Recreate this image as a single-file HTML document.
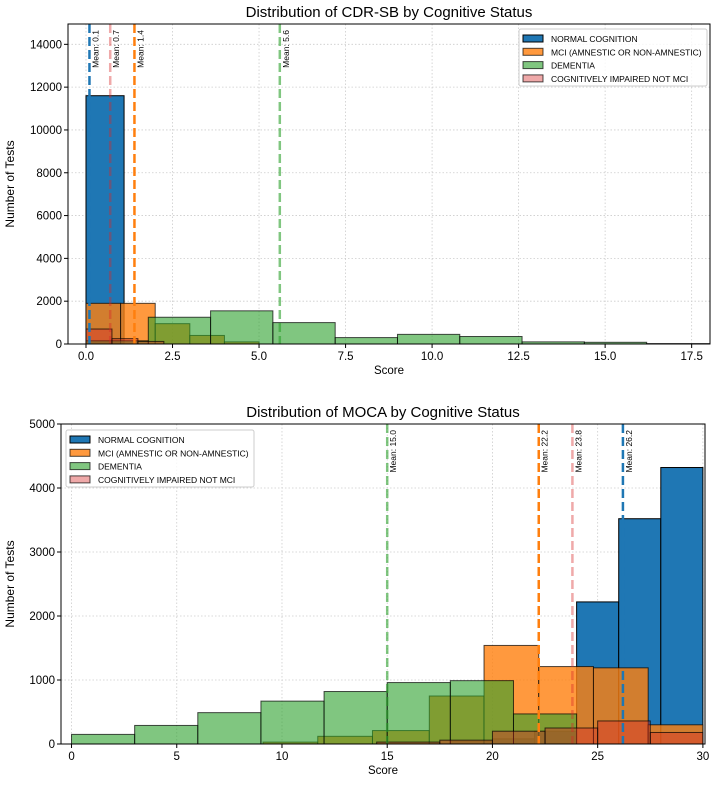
<!DOCTYPE html>
<html><head><meta charset="utf-8">
<style>
body{margin:0;background:#fff;}
svg{display:block;font-family:"Liberation Sans",sans-serif;}
</style></head>
<body>
<svg id="fig" width="714" height="785" viewBox="0 0 714 785" xmlns="http://www.w3.org/2000/svg"></svg>
<script>
// ---- Chart 1 data: CDR-SB ----
const cdrNormalEdges = [0, 1.1];
const cdrNormalCounts = [11600];
const cdrMciEdges = [0, 1, 2, 3, 4, 5];
const cdrMciCounts = [1900, 1900, 950, 400, 100];
const cdrDemEdges = [0, 1.8, 3.6, 5.4, 7.2, 9.0, 10.8, 12.6, 14.4, 16.2, 18.0];
const cdrDemCounts = [150, 1250, 1550, 1000, 300, 450, 350, 100, 80, 20];
const cdrImpEdges = [0, 0.75, 1.5, 2.25];
const cdrImpCounts = [700, 250, 120];
const cdrMeans = [0.1, 1.4, 5.6, 0.7];
const cdrXTicks = [0, 2.5, 5, 7.5, 10, 12.5, 15, 17.5];
const cdrXTickLabels = ["0.0","2.5","5.0","7.5","10.0","12.5","15.0","17.5"];
const cdrYTicks = [0, 2000, 4000, 6000, 8000, 10000, 12000, 14000];

// ---- Chart 2 data: MOCA ----
const mocaNormalEdges = [18, 20, 22, 24, 26, 28, 30];
const mocaNormalCounts = [40, 80, 200, 2220, 3520, 4320];
const mocaMciEdges = [9.1, 11.7, 14.3, 17, 19.6, 22.2, 24.8, 27.4, 30];
const mocaMciCounts = [30, 120, 210, 750, 1540, 1210, 1190, 300];
const mocaDemEdges = [0, 3, 6, 9, 12, 15, 18, 21, 24];
const mocaDemCounts = [150, 290, 490, 670, 820, 960, 990, 470];
const mocaImpEdges = [14.5, 17.5, 20, 22.5, 25, 27.5, 30];
const mocaImpCounts = [30, 60, 200, 250, 360, 180];
const mocaMeans = [26.2, 22.2, 15.0, 23.8];
const mocaXTicks = [0, 5, 10, 15, 20, 25, 30];
const mocaYTicks = [0, 1000, 2000, 3000, 4000, 5000];

const labels = ["NORMAL COGNITION","MCI (AMNESTIC OR NON-AMNESTIC)","DEMENTIA","COGNITIVELY IMPAIRED NOT MCI"];
const fills = ["rgba(31,119,180,1)","rgba(255,127,14,0.8)","rgba(44,160,44,0.6)","rgba(214,39,40,0.4)"];
const lineCols = ["#1f77b4","#ff7f0e","rgba(44,160,44,0.6)","rgba(214,39,40,0.4)"];
const keys = ["normal","mci","dementia","impaired"];

const NS = "http://www.w3.org/2000/svg";
const fig = document.getElementById('fig');
function mk(tag, attrs, parent){const e=document.createElementNS(NS,tag);for(const k in attrs)e.setAttribute(k,attrs[k]);(parent||fig).appendChild(e);return e;}

function drawChart(cfg){
  const g = mk('g',{});
  
  
  const {L,R,T,B,x0,x1,y1} = cfg;
  const sx = v => L + (v - x0) / (x1 - x0) * (R - L);
  const sy = v => B - v / y1 * (B - T);
  // grid
  cfg.xt.forEach(v=>{ const l=mk('line',{x1:sx(v),x2:sx(v),y1:T,y2:B,stroke:'#ccc','stroke-dasharray':'1.5,2','stroke-width':0.8},g);
     });
  cfg.yt.forEach(v=>{ const l=mk('line',{x1:L,x2:R,y1:sy(v),y2:sy(v),stroke:'#ccc','stroke-dasharray':'1.5,2','stroke-width':0.8},g);
     });
  // bars
  cfg.series.forEach((s,si)=>{
    s.counts.forEach((c,i)=>{
      const xa=sx(s.edges[i]), xb=sx(s.edges[i+1]);
      const r=mk('rect',{x:xa,y:sy(c),width:xb-xa,height:sy(0)-sy(c),fill:fills[si],stroke:'rgba(0,0,0,'+(si==0?1:0.7)+')','stroke-width':1},g);
      
      
    });
  });
  // mean lines
  cfg.means.forEach((m,si)=>{
    const x=sx(m);
    const l=mk('line',{x1:x,x2:x,y1:T,y2:B,stroke:lineCols[si],'stroke-width':2.5,'stroke-dasharray':'9,4'},g);
    
    
    const t=mk('text',{x:0,y:0,'font-size':8.5,fill:'#000',transform:`translate(${x+9},${T+6}) rotate(-90)`,'text-anchor':'end'},g);
    t.textContent='Mean: '+m.toFixed(1);
    
    
  });
  // frame
  const f=mk('rect',{x:L,y:T,width:R-L,height:B-T,fill:'none',stroke:'#000','stroke-width':1},g);
   
  // ticks
  cfg.xt.forEach((v,i)=>{ mk('line',{x1:sx(v),x2:sx(v),y1:B,y2:B+4,stroke:'#000'},g);
    const t=mk('text',{x:sx(v),y:B+16,'font-size':11.5,'text-anchor':'middle'},g);
    t.textContent=cfg.xl[i];
     });
  cfg.yt.forEach(v=>{ mk('line',{x1:L-4,x2:L,y1:sy(v),y2:sy(v),stroke:'#000'},g);
    const t=mk('text',{x:L-6,y:sy(v)+4,'font-size':11.5,'text-anchor':'end'},g);
    t.textContent=String(v);
     });
  // titles
  const ti=mk('text',{x:(L+R)/2,y:T-7,'font-size':15,'text-anchor':'middle'},g);
  ti.textContent=cfg.title;  
  const xa=mk('text',{x:(L+R)/2,y:B+30,'font-size':11.5,'text-anchor':'middle'},g);
  xa.textContent='Score';  
  const ya=mk('text',{x:0,y:0,'font-size':12,'text-anchor':'middle',transform:`translate(${cfg.yaX},${(T+B)/2}) rotate(-90)`},g);
  ya.textContent='Number of Tests';  
  // legend
  const lg=mk('g',{},g);
   
  mk('rect',{x:cfg.lx,y:cfg.ly,width:188,height:57,rx:2,fill:'rgba(255,255,255,0.8)',stroke:'#ccc'},lg);
  labels.forEach((lab,i)=>{
    const y=cfg.ly+6+i*13.3;
    const p=mk('rect',{x:cfg.lx+4,y:y,width:20,height:7,fill:fills[i],stroke:i==0?'#000':'rgba(0,0,0,0.7)'},lg);
     
    const t=mk('text',{x:cfg.lx+32,y:y+7,'font-size':8.5},lg);
    t.textContent=lab;  
  });
}

drawChart({name:'cdr-sb-chart',title:'Distribution of CDR-SB by Cognitive Status',
  L:68,R:710,T:24,B:344,x0:-0.52,x1:18.03,y1:14950,yaX:14,
  xt:cdrXTicks,xl:cdrXTickLabels,yt:cdrYTicks,means:cdrMeans,lx:519,ly:29,
  series:[{edges:cdrNormalEdges,counts:cdrNormalCounts},{edges:cdrMciEdges,counts:cdrMciCounts},
          {edges:cdrDemEdges,counts:cdrDemCounts},{edges:cdrImpEdges,counts:cdrImpCounts}]});
drawChart({name:'moca-chart',title:'Distribution of MOCA by Cognitive Status',
  L:61,R:705,T:424,B:744,x0:-0.5,x1:30.1,y1:5000,yaX:14,
  xt:mocaXTicks,xl:mocaXTicks.map(String),yt:mocaYTicks,means:mocaMeans,lx:66,ly:430,
  series:[{edges:mocaNormalEdges,counts:mocaNormalCounts},{edges:mocaMciEdges,counts:mocaMciCounts},
          {edges:mocaDemEdges,counts:mocaDemCounts},{edges:mocaImpEdges,counts:mocaImpCounts}]});
</script>
</body></html>
